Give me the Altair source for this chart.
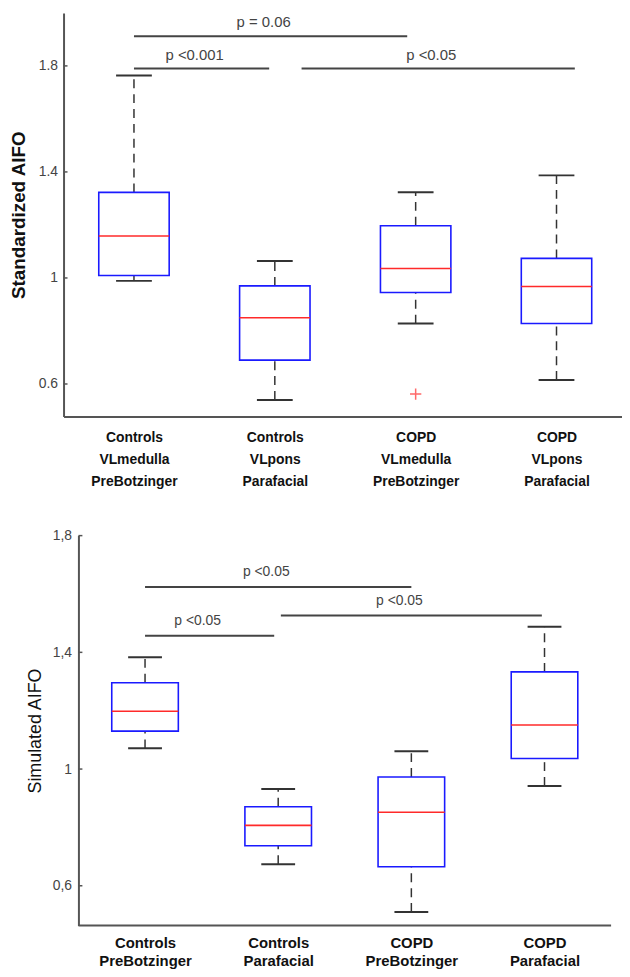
import altair as alt
import pandas as pd

# ---------------- data ----------------
positions = [1, 2, 3, 4]

top_categories = [
    ["Controls", "VLmedulla", "PreBotzinger"],
    ["Controls", "VLpons", "Parafacial"],
    ["COPD", "VLmedulla", "PreBotzinger"],
    ["COPD", "VLpons", "Parafacial"],
]
top_whisker_low = [0.989, 0.540, 0.828, 0.615]
top_q1 = [1.009, 0.690, 0.945, 0.828]
top_median = [1.158, 0.850, 1.036, 0.968]
top_q3 = [1.323, 0.970, 1.197, 1.074]
top_whisker_high = [1.764, 1.064, 1.323, 1.387]
top_outlier_pos = [3]
top_outlier_val = [0.562]
top_comp_from = [1.0, 1.0, 2.19]
top_comp_to = [2.94, 1.96, 4.13]
top_comp_level = [1.912, 1.79, 1.79]
top_comp_label = ["p = 0.06", "p <0.001", "p <0.05"]
top_ticks = [0.6, 1.0, 1.4, 1.8]

bottom_categories = [
    ["Controls", "PreBotzinger"],
    ["Controls", "Parafacial"],
    ["COPD", "PreBotzinger"],
    ["COPD", "Parafacial"],
]
bottom_whisker_low = [1.071, 0.674, 0.510, 0.942]
bottom_q1 = [1.130, 0.737, 0.665, 1.036]
bottom_median = [1.198, 0.807, 0.852, 1.151]
bottom_q3 = [1.296, 0.871, 0.973, 1.333]
bottom_whisker_high = [1.383, 0.932, 1.061, 1.488]
bottom_comp_from = [1.0, 1.0, 2.02]
bottom_comp_to = [3.0, 1.97, 3.98]
bottom_comp_level = [1.624, 1.457, 1.526]
bottom_comp_label = ["p <0.05", "p <0.05", "p <0.05"]
bottom_ticks = [0.6, 1.0, 1.4, 1.8]

# ---------------- styling ----------------
BLUE = "#1a1aff"
RED = "#ff2a2a"
DARK = "#333333"
AXIS = "#555555"
BOX_HALF = 0.25
CAP_HALF = 0.127


def label_expr(cats):
    expr = ""
    for p, lines in zip(positions, cats):
        arr = "[" + ",".join("'" + s + "'" for s in lines) + "]"
        expr += f"datum.value == {p} ? {arr} : "
    return expr + "''"


def box_frame(lo, q1, med, q3, hi):
    return pd.DataFrame({"pos": positions, "lo": lo, "q1": q1, "med": med,
                         "q3": q3, "hi": hi})


def panel(df, comp, ticks, outl, xdom, ydom, w, h, ytitle, ylabel_expr,
          x_axis, y_axis_extra, tick_px, text_size, dx, dy, bottom_line=None):
    base = alt.Chart(df).transform_calculate(
        x_lo=f"datum.pos - {BOX_HALF}", x_hi=f"datum.pos + {BOX_HALF}",
        c_lo=f"datum.pos - {CAP_HALF}", c_hi=f"datum.pos + {CAP_HALF}",
    )
    xs = alt.Scale(domain=xdom, nice=False, zero=False)
    ys = alt.Scale(domain=ydom, nice=False, zero=False)
    y_axis = alt.Axis(values=ticks, labelExpr=ylabel_expr, grid=False,
                      ticks=False, title=ytitle, **y_axis_extra)

    def X(f):
        return alt.X(f, scale=xs, axis=x_axis)

    def Y(f):
        return alt.Y(f, scale=ys, axis=y_axis)

    whisk_hi = base.mark_rule(color=DARK, strokeWidth=1.5, strokeDash=[9, 6]).encode(
        x=X("pos:Q"), y=Y("q3:Q"), y2="hi:Q")
    whisk_lo = base.mark_rule(color=DARK, strokeWidth=1.5, strokeDash=[9, 6]).encode(
        x=X("pos:Q"), y=Y("lo:Q"), y2="q1:Q")
    cap_hi = base.mark_rule(color=DARK, strokeWidth=2).encode(
        x=X("c_lo:Q"), x2="c_hi:Q", y=Y("hi:Q"))
    cap_lo = base.mark_rule(color=DARK, strokeWidth=2).encode(
        x=X("c_lo:Q"), x2="c_hi:Q", y=Y("lo:Q"))
    box = base.mark_rect(fill="white", stroke=BLUE, strokeWidth=1.6).encode(
        x=X("x_lo:Q"), x2="x_hi:Q", y=Y("q1:Q"), y2="q3:Q")
    med = base.mark_rule(color=RED, strokeWidth=1.6).encode(
        x=X("x_lo:Q"), x2="x_hi:Q", y=Y("med:Q"))

    cbase = alt.Chart(comp).transform_calculate(mid="(datum.x1 + datum.x2) / 2")
    comp_lines = cbase.mark_rule(color="#444444", strokeWidth=2).encode(
        x=X("x1:Q"), x2="x2:Q", y=Y("level:Q"))
    comp_text = cbase.mark_text(font="Liberation Sans", fontSize=text_size,
                                color="#444444", dx=dx, dy=dy,
                                baseline="middle").encode(
        x=X("mid:Q"), y=Y("level:Q"), text="label:N")

    tick_layer = alt.Chart(pd.DataFrame({"t": ticks})).mark_rule(
        color=AXIS, strokeWidth=1.5).encode(
        x=alt.value(tick_px[0]), x2=alt.value(tick_px[1]), y=Y("t:Q"))

    layers = [whisk_hi, whisk_lo, cap_hi, cap_lo, box, med, comp_lines,
              comp_text, tick_layer]

    if outl is not None:
        layers.append(alt.Chart(outl).mark_point(
            shape="M-1,0L1,0M0,-1L0,1", filled=False, color=RED,
            strokeWidth=1.5, size=130).encode(x=X("pos:Q"), y=Y("val:Q")))
    if bottom_line is not None:
        layers.append(alt.Chart(bottom_line).mark_rule(
            color=AXIS, strokeWidth=2).encode(
            x=X("x1:Q"), x2="x2:Q", y=Y("y:Q")))

    return alt.layer(*layers).properties(width=w, height=h)


# ---------------- top panel ----------------
top_df = box_frame(top_whisker_low, top_q1, top_median, top_q3, top_whisker_high)
top_comp = pd.DataFrame({"x1": top_comp_from, "x2": top_comp_to,
                         "level": top_comp_level, "label": top_comp_label})
top_out = pd.DataFrame({"pos": top_outlier_pos, "val": top_outlier_val})

top_x_axis = alt.Axis(values=positions, labelExpr=label_expr(top_categories),
                      title=None, grid=False, ticks=False, labelPadding=14,
                      labelFont="Liberation Sans", labelFontWeight="bold",
                      labelFontSize=14, labelLineHeight=22, labelColor="#111111",
                      labelBaseline="top", domainColor=AXIS, domainWidth=2)
top = panel(top_df, top_comp, top_ticks, top_out, [0.5, 4.465], [0.477, 2.0],
            563, 407, "Standardized AIFO",
            "datum.value == 1 ? '1' : format(datum.value, '.1f')",
            top_x_axis,
            dict(labelFont="Liberation Sans", labelFontSize=14,
                 labelColor="#444444", labelPadding=6, domainColor=AXIS,
                 domainWidth=2, titleFont="Liberation Sans", titleFontSize=19,
                 titleFontWeight="bold", titleColor="#111111", titleX=-45,
                 titleBaseline="middle"),
            (0, 4), 15, -7, -14)

# ---------------- bottom panel ----------------
bottom_df = box_frame(bottom_whisker_low, bottom_q1, bottom_median, bottom_q3,
                      bottom_whisker_high)
bottom_comp = pd.DataFrame({"x1": bottom_comp_from, "x2": bottom_comp_to,
                            "level": bottom_comp_level, "label": bottom_comp_label})
bottom_ydom = [0.464, 1.8]
bottom_xdom = [0.388, 4.5]
bottom_axis_line = pd.DataFrame({"x1": [0.5], "x2": [bottom_xdom[1]],
                                 "y": [bottom_ydom[0]]})

bottom_x_axis = alt.Axis(values=positions, labelExpr=label_expr(bottom_categories),
                         title=None, grid=False, ticks=False, domain=False,
                         labelPadding=10, labelFont="Liberation Sans",
                         labelFontWeight="bold", labelFontSize=15,
                         labelLineHeight=18, labelColor="#111111",
                         labelBaseline="top")
bottom = panel(bottom_df, bottom_comp, bottom_ticks, None, bottom_xdom, bottom_ydom,
               552, 393, "Simulated AIFO",
               "datum.value == 1 ? '1' : replace(format(datum.value, '.1f'), '.', ',')",
               bottom_x_axis,
               dict(labelFont="Liberation Sans", labelFontSize=14,
                    labelColor="#444444", labelPadding=7, domainColor=AXIS,
                    domainWidth=2, offset=-15, titleFont="Liberation Sans",
                    titleFontSize=18, titleFontWeight="normal",
                    titleColor="#111111", titleX=-43.5, titleBaseline="middle"),
               (15, 19), 14, -12, -15, bottom_line=bottom_axis_line)

chart = alt.vconcat(top, bottom, spacing=41).properties(
    padding={"left": 2, "top": 1, "right": 0, "bottom": 0}
).configure_view(stroke=None)

chart.save("out.html", embed_options={"renderer": "svg", "actions": False})
